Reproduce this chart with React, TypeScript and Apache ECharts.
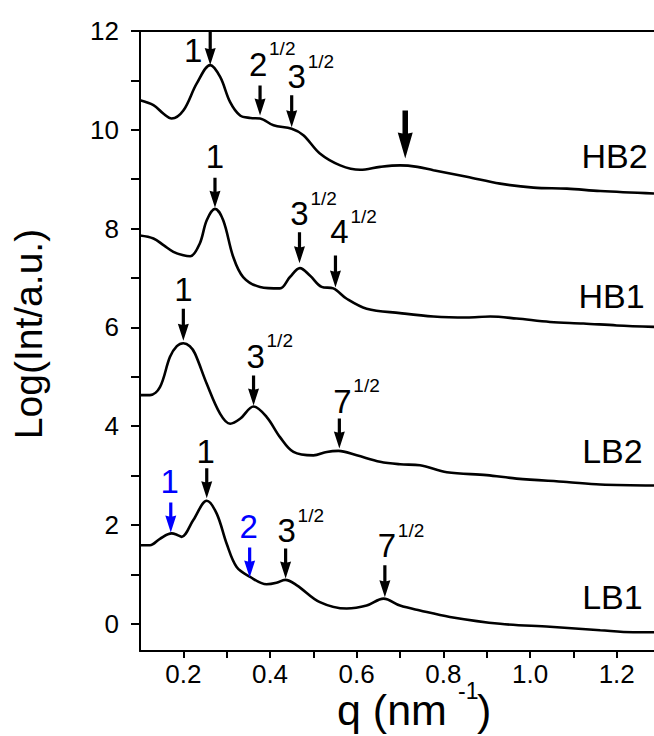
import React, { useEffect, useRef } from 'react';
import * as echarts from 'echarts';

const FONT = '"Liberation Sans", Arial, Helvetica, sans-serif';

// ---- curve data (q in nm^-1, log intensity) ----
const qHB2 = [0.100, 0.131, 0.155, 0.173, 0.200, 0.231, 0.262, 0.285, 0.308, 0.331, 0.355, 0.377, 0.408, 0.450, 0.477, 0.515, 0.562, 0.608, 0.654, 0.700, 0.740, 0.777, 0.854, 0.931, 1.008, 1.085, 1.162, 1.286];
const yHB2 = [10.60, 10.50, 10.32, 10.23, 10.39, 10.94, 11.31, 11.07, 10.56, 10.29, 10.24, 10.23, 10.09, 10.02, 9.89, 9.52, 9.28, 9.19, 9.25, 9.28, 9.25, 9.18, 9.05, 8.91, 8.83, 8.81, 8.76, 8.71];

const qHB1 = [0.100, 0.131, 0.155, 0.177, 0.200, 0.216, 0.238, 0.254, 0.273, 0.292, 0.315, 0.338, 0.377, 0.423, 0.446, 0.469, 0.492, 0.519, 0.546, 0.577, 0.623, 0.700, 0.777, 0.854, 0.908, 0.969, 1.046, 1.123, 1.200, 1.286];
const yHB1 = [7.86, 7.80, 7.66, 7.53, 7.46, 7.44, 7.70, 8.17, 8.40, 8.17, 7.43, 7.02, 6.82, 6.79, 7.02, 7.20, 7.05, 6.82, 6.79, 6.58, 6.38, 6.29, 6.22, 6.20, 6.22, 6.18, 6.11, 6.08, 6.04, 6.01];

const qLB2 = [0.100, 0.123, 0.146, 0.169, 0.185, 0.200, 0.215, 0.227, 0.254, 0.285, 0.308, 0.331, 0.362, 0.392, 0.423, 0.454, 0.500, 0.531, 0.558, 0.600, 0.654, 0.700, 0.746, 0.808, 0.900, 0.969, 1.085, 1.162, 1.286];
const yLB2 = [4.63, 4.63, 4.79, 5.40, 5.62, 5.68, 5.62, 5.47, 4.86, 4.25, 4.05, 4.15, 4.40, 4.19, 3.78, 3.48, 3.41, 3.48, 3.50, 3.41, 3.28, 3.23, 3.21, 3.07, 3.01, 2.94, 2.87, 2.82, 2.80];

const qLB1 = [0.100, 0.123, 0.146, 0.173, 0.186, 0.196, 0.223, 0.254, 0.277, 0.300, 0.323, 0.354, 0.392, 0.415, 0.435, 0.462, 0.515, 0.577, 0.623, 0.662, 0.700, 0.746, 0.815, 0.931, 1.046, 1.162, 1.238, 1.286];
const yLB1 = [1.59, 1.59, 1.72, 1.83, 1.80, 1.76, 2.10, 2.49, 2.23, 1.62, 1.15, 0.95, 0.80, 0.83, 0.89, 0.78, 0.44, 0.31, 0.37, 0.51, 0.37, 0.27, 0.14, 0.00, -0.06, -0.13, -0.17, -0.17];

// ---- axes ----
const xMin = 0.1;
const xMax = 1.286;
const yMin = -0.55;
const yMax = 12;
const xTickValues = [0.2, 0.3, 0.4, 0.5, 0.6, 0.7, 0.8, 0.9, 1.0, 1.1, 1.2];
const xLabelValues = [0.2, 0.4, 0.6, 0.8, 1.0, 1.2];
const yTickValues = [0, 1, 2, 3, 4, 5, 6, 7, 8, 9, 10, 11, 12];
const yLabelValues = [0, 2, 4, 6, 8, 10, 12];

// ---- curve names ----
const curveNames = ['HB2', 'HB1', 'LB2', 'LB1'];
const curveNameQ = [1.195, 1.188, 1.190, 1.190];
const curveNameY = [9.46, 6.63, 3.49, 0.55];

// ---- peak annotations (arrow tip position, index label) ----
const peakQ = [0.262, 0.377, 0.450, 0.712, 0.273, 0.468, 0.551, 0.200, 0.362, 0.560, 0.171, 0.254, 0.353, 0.436, 0.665];
const peakY = [11.31, 10.29, 10.05, 9.42, 8.42, 7.30, 6.81, 5.73, 4.42, 3.55, 1.85, 2.54, 0.94, 0.92, 0.54];
const peakBase = ['1', '2', '3', '', '1', '3', '4', '1', '3', '7', '1', '1', '2', '3', '7'];
const peakExp = ['', '1/2', '1/2', '', '', '1/2', '1/2', '', '1/2', '1/2', '', '', '', '1/2', '1/2'];
const peakBlue = [false, false, false, false, false, false, false, false, false, false, true, false, true, false, false];

// layout of annotation glyphs (pixels)
const arrowLength = [35, 30, 32, 48, 30, 31, 32, 32, 30, 30, 30, 30, 30, 30, 32];
const arrowHeavy = [false, false, false, true, false, false, false, false, false, false, false, false, false, false, false];
const labelDx = [-17, -2, 5, 0, 0, 0, 4, 0, 2, 3, -1, -1, -1, 1, 2];
const labelDy = [32, -10, -7, 0, -10, -7, -12, -8, -8, -6, -9, -5, -9, -6, -8];

const zip = (a: number[], b: number[]) => a.map((v, i) => [v, b[i]]);

export default function App() {
  const ref = useRef<HTMLDivElement>(null);

  useEffect(() => {
    if (!ref.current) return;
    const chart = echarts.init(ref.current, undefined, { renderer: 'svg' });

    const lineSeries = [
      [qHB2, yHB2],
      [qHB1, yHB1],
      [qLB2, yLB2],
      [qLB1, yLB1],
    ].map(([q, y], k) => ({
      type: 'line',
      name: curveNames[k],
      data: zip(q as number[], y as number[]),
      symbol: 'none',
      smooth: 0.35,
      lineStyle: { color: '#000', width: 2.6 },
      z: 2,
    }));

    const BASE_F = 33;
    const SUP_F = 19;

    const option: any = {
      animation: false,
      backgroundColor: '#fff',
      grid: { left: 140, top: 31, right: 0, bottom: 85, containLabel: false },
      xAxis: [
        {
          type: 'value',
          min: xMin,
          max: xMax,
          position: 'bottom',
          axisLine: { show: true, onZero: false, lineStyle: { color: '#000', width: 2 } },
          axisTick: { show: true, inside: false, length: 7, customValues: xTickValues, lineStyle: { color: '#000', width: 2 } },
          axisLabel: {
            show: true,
            customValues: xLabelValues,
            margin: 10,
            color: '#000',
            fontSize: 26,
            fontFamily: FONT,
            formatter: (v: number) => v.toFixed(1),
          },
          splitLine: { show: false },
        },
        {
          type: 'value',
          min: xMin,
          max: xMax,
          position: 'top',
          axisLine: { show: true, onZero: false, lineStyle: { color: '#000', width: 2 } },
          axisTick: { show: false },
          axisLabel: { show: false },
          splitLine: { show: false },
        },
      ],
      yAxis: {
        type: 'value',
        min: yMin,
        max: yMax,
        axisLine: { show: true, onZero: false, lineStyle: { color: '#000', width: 2 } },
        axisTick: { show: true, inside: false, length: 9, customValues: yTickValues, lineStyle: { color: '#000', width: 2 } },
        axisLabel: {
          show: true,
          customValues: yLabelValues,
          margin: 21,
          color: '#000',
          fontSize: 26,
          fontFamily: FONT,
          formatter: (v: number) => String(v),
        },
        splitLine: { show: false },
      },
      series: [
        ...lineSeries,
        {
          type: 'custom',
          name: 'peaks',
          coordinateSystem: 'cartesian2d',
          clip: false,
          z: 5,
          data: zip(peakQ, peakY),
          renderItem: (params: any, api: any) => {
            const i = params.dataIndex;
            const p = api.coord([api.value(0), api.value(1)]);
            const x = p[0];
            const tip = p[1];
            const heavy = arrowHeavy[i];
            const L = arrowLength[i];
            const ws = heavy ? 5.5 : 3.2;
            const wh = heavy ? 15 : 11;
            const hh = heavy ? 25 : 16;
            const color = peakBlue[i] ? '#0000ff' : '#000';
            const top = tip - L;
            const children: any[] = [
              {
                type: 'polygon',
                shape: {
                  points: [
                    [x - ws / 2, top],
                    [x + ws / 2, top],
                    [x + ws / 2, tip - hh],
                    [x + wh / 2, tip - hh - 1],
                    [x, tip],
                    [x - wh / 2, tip - hh - 1],
                    [x - ws / 2, tip - hh],
                  ],
                },
                style: { fill: color, stroke: 'none' },
              },
            ];
            if (peakBase[i]) {
              const bx = x + labelDx[i];
              const baseline = top + labelDy[i];
              children.push({
                type: 'text',
                x: bx,
                y: baseline - 0.3465 * BASE_F,
                style: {
                  text: peakBase[i],
                  fill: color,
                  fontSize: BASE_F,
                  fontFamily: FONT,
                  align: 'center',
                  verticalAlign: 'middle',
                },
              });
              if (peakExp[i]) {
                children.push({
                  type: 'text',
                  x: bx + 11,
                  y: baseline - 20 - 0.3465 * SUP_F,
                  style: {
                    text: peakExp[i],
                    fill: color,
                    fontSize: SUP_F,
                    fontFamily: FONT,
                    align: 'left',
                    verticalAlign: 'middle',
                  },
                });
              }
            }
            return { type: 'group', children };
          },
        },
        {
          type: 'custom',
          name: 'curveNames',
          coordinateSystem: 'cartesian2d',
          clip: false,
          z: 5,
          data: zip(curveNameQ, curveNameY),
          renderItem: (params: any, api: any) => {
            const i = params.dataIndex;
            const p = api.coord([api.value(0), api.value(1)]);
            return {
              type: 'text',
              x: p[0],
              y: p[1],
              style: {
                text: curveNames[i],
                fill: '#000',
                fontSize: 34,
                fontFamily: FONT,
                align: 'center',
                verticalAlign: 'middle',
              },
            };
          },
        },
      ],
      graphic: [
        {
          type: 'text',
          x: 28,
          y: 334,
          rotation: Math.PI / 2,
          style: {
            text: 'Log(Int/a.u.)',
            fill: '#000',
            fontSize: 39,
            fontFamily: FONT,
            align: 'center',
            verticalAlign: 'middle',
          },
        },
        {
          type: 'text',
          x: 337,
          y: 725 - 0.3465 * 43,
          style: { text: 'q (nm', fill: '#000', fontSize: 43, fontFamily: FONT, align: 'left', verticalAlign: 'middle' },
        },
        {
          type: 'text',
          x: 458,
          y: 699 - 0.3465 * 23,
          style: { text: '-1', fill: '#000', fontSize: 23, fontFamily: FONT, align: 'left', verticalAlign: 'middle' },
        },
        {
          type: 'text',
          x: 477,
          y: 725 - 0.3465 * 43,
          style: { text: ')', fill: '#000', fontSize: 43, fontFamily: FONT, align: 'left', verticalAlign: 'middle' },
        },
      ],
    };

    chart.setOption(option);
    return () => chart.dispose();
  }, []);

  return (
    <div style={{ position: 'fixed', left: 0, top: 0, width: 654, height: 736, background: '#fff' }}>
      <div ref={ref} style={{ width: 654, height: 736 }} />
    </div>
  );
}
